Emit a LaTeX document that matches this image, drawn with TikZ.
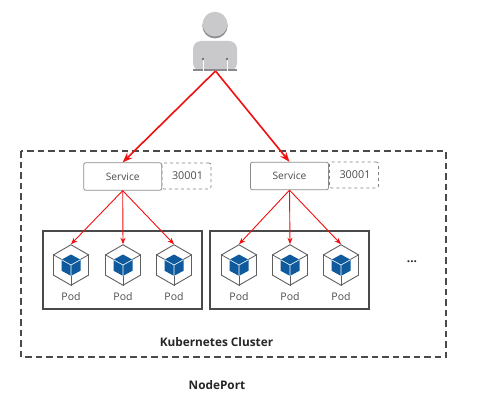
\documentclass[tikz,border=0pt]{standalone}
\usepackage{fontspec}
\setmainfont{Open Sans}
\usetikzlibrary{shapes.geometric,arrows.meta}
\definecolor{cubeblue}{HTML}{0F5A9C}
\definecolor{linegrey}{HTML}{5F5F5F}
\definecolor{boxgrey}{HTML}{4A4A4A}
\definecolor{persona}{HTML}{C9C9CB}
\definecolor{personb}{HTML}{8A8A8C}
\definecolor{arrowred}{HTML}{F01010}
\tikzset{
  x=1pt,y=-1pt,
  cluster/.style={draw=boxgrey,line width=1.6pt,dash pattern=on 6.5pt off 4pt},
  svc/.style={draw=black!45,line width=0.8pt,rounded corners=2pt,minimum width=78pt,minimum height=27.5pt,inner sep=0pt,font=\fontsize{10.2}{12}\selectfont,text=black!70},
  port/.style={draw=black!50,line width=0.7pt,dashed,rounded corners=2pt,minimum width=49pt,minimum height=26pt,inner sep=0pt,font=\fontsize{10.8}{12}\selectfont,text=black!70},
  podbox/.style={draw=boxgrey,line width=1.3pt,minimum width=159pt,minimum height=78pt,inner sep=0pt},
  hexa/.style={draw=linegrey,line width=0.9pt,regular polygon,regular polygon sides=6,shape border rotate=30,minimum size=40.5pt,inner sep=0pt},
  podlabel/.style={font=\fontsize{10.5}{12}\selectfont,text=black!70,inner sep=0pt},
  bigarrow/.style={draw=arrowred,line width=1.6pt,-{Stealth[length=10pt,width=7.5pt]}},
  smallarrow/.style={draw=arrowred,line width=0.9pt,-{Stealth[length=6.5pt,width=5pt]}},
  title/.style={font=\bfseries\fontsize{11.8}{14}\selectfont,text=black!85,inner sep=0pt}
}
\newcommand{\podcube}[2]{%
  \node[hexa] (#1) at (#2,265) {};
  \draw[linegrey,line width=0.8pt] (#1.corner 2) -- ++(9,5);
  \draw[linegrey,line width=0.8pt] (#1.corner 6) -- ++(-9,5);
  \draw[linegrey,line width=0.8pt] (#1.corner 4) -- ++(0,-10);
  \fill[cubeblue] (#2,254.5) -- ++(9.5,5.2) -- ++(0,11) -- ++(-9.5,5.2) -- ++(-9.5,-5.2) -- ++(0,-11) -- cycle;
  \draw[white,line width=0.6pt] (#2-9.5,259.7) -- (#2,265) -- (#2+9.5,259.7) (#2,265) -- (#2,275.9);
  \node[podlabel] (#1l) at (#2,297) {Pod};
}
\begin{document}
\begin{tikzpicture}
\useasboundingbox[fill=white] (0,0) rectangle (500,409);
% person
\fill[personb] (215,25.8) circle (12.6);
\fill[persona] (215,24.2) circle (12.4);
\fill[persona,rounded corners=8pt] (193,71) -- (193,41) -- (237,41) -- (237,71) -- cycle;
\fill[personb] (193,69) rectangle (237,71.5);
\fill[white] (202.6,60) rectangle (203.8,71.5);
\fill[white] (226.6,60) rectangle (227.8,71.5);
\fill[black!55] (202.4,58) rectangle (204,60);
\fill[black!55] (226.4,58) rectangle (228,60);
\node[minimum size=0pt,inner sep=0pt] (user) at (215.5,71) {};
% cluster
\draw[cluster] (21,151) rectangle (446,357);
% services
\node[port] (p1) at (186.5,176) {\hspace*{2pt}30001};
\node[port] (p2) at (354,175) {\hspace*{2pt}30001};
\node[svc,fill=white] (s1) at (122.7,176.5) {Service};
\node[svc,fill=white] (s2) at (289.5,176) {Service};
% pod boxes
\node[podbox] (b1) at (122.5,270) {};
\node[podbox] (b2) at (289.5,270) {};
\podcube{a1}{71}
\podcube{a2}{123}
\podcube{a3}{174}
\podcube{c1}{239}
\podcube{c2}{290}
\podcube{c3}{341}
% arrows
\draw[bigarrow] (user) -- (s1.north);
\draw[bigarrow] (user) -- (s2.north);
\draw[smallarrow] (s1.south) -- (a1.north);
\draw[smallarrow] (s1.south) -- (a2.north);
\draw[smallarrow] (s1.south) -- (a3.north);
\draw[smallarrow] (s2.south) -- (c1.north);
\draw[smallarrow] (s2.south) -- (c2.north);
\draw[smallarrow] (s2.south) -- (c3.north);
% labels
\node[title] (k) at (216.5,342) {Kubernetes Cluster};
\node[title] (n) at (217,385) {NodePort};
\node[title] (d) at (412,262) {...};
\end{tikzpicture}
\end{document}
